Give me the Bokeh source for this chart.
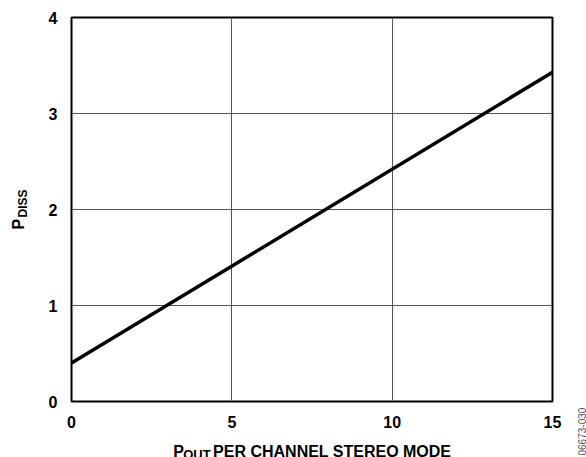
import math
from bokeh.plotting import figure
from bokeh.models import FixedTicker, Range1d
from bokeh.layouts import row, column
from bokeh.core.properties import value
from bokeh.embed import file_html
from bokeh.resources import INLINE

# ---- data ----
pout = [0, 15]
pdiss = [0.40, 3.43]
x_ticks = [0, 5, 10, 15]
y_ticks = [0, 1, 2, 3, 4]
x_label_parts = ["P", "OUT", "PER CHANNEL STEREO MODE"]
y_label_parts = ["P", "DISS"]
watermark = "06673-030"

FONT = "Liberation Sans"
TOTAL_W, TOTAL_H = 586, 457
LEFT_W, RIGHT_W = 40, 16
MID_W = TOTAL_W - LEFT_W - RIGHT_W
MAIN_H, BOTTOM_H = 430, TOTAL_H - 430
FL, FT, FW, FH = 71 - LEFT_W, 17, 481, 384
BX = -19  # correction for bottom panel placement

# ---- main plot ----
p = figure(width=MID_W, height=MAIN_H, output_backend="svg", toolbar_location=None,
           x_range=Range1d(0, 15), y_range=Range1d(0, 4),
           frame_width=FW, frame_height=FH,
           min_border_left=FL, min_border_top=FT,
           min_border_right=MID_W - FL - FW, min_border_bottom=MAIN_H - FT - FH)
p.background_fill_color = "white"
p.border_fill_color = "white"
p.outline_line_color = "black"
p.outline_line_width = 2
for ax in (p.xaxis, p.yaxis):
    ax.axis_line_color = None
    ax.major_tick_line_color = None
    ax.minor_tick_line_color = None
    ax.major_label_text_font = FONT
    ax.major_label_text_font_style = "bold"
    ax.major_label_text_font_size = "16px"
    ax.major_label_text_color = "black"
p.xaxis.ticker = FixedTicker(ticks=x_ticks)
p.yaxis.ticker = FixedTicker(ticks=y_ticks)
p.xaxis.major_label_standoff = 8
p.yaxis.major_label_standoff = 8
p.grid.grid_line_color = "#555555"
p.grid.grid_line_width = 1
p.xgrid.ticker = FixedTicker(ticks=x_ticks)
p.ygrid.ticker = FixedTicker(ticks=y_ticks)
p.line(pout, pdiss, line_color="black", line_width=3.5)


def text_panel(w, h):
    f = figure(width=w, height=h, output_backend="svg", toolbar_location=None,
               x_range=Range1d(0, w), y_range=Range1d(0, h),
               x_axis_type=None, y_axis_type=None, min_border=0)
    f.grid.visible = False
    f.outline_line_color = None
    f.background_fill_color = "white"
    f.border_fill_color = "white"
    return f


def put(f, h, px, py, txt, size, angle=0.0, color="black", bold=True):
    f.text(x=[px], y=[h - py], text=[txt], angle=angle,
           text_font=value(FONT), text_font_size=value(size),
           text_font_style="bold" if bold else "normal",
           text_color=color, text_align="left", text_baseline="alphabetic")

# left panel: y-axis label (rotated)
left = text_panel(LEFT_W, MAIN_H)
put(left, MAIN_H, 18, 229, y_label_parts[0], "16px", angle=math.pi / 2)
put(left, MAIN_H, 22, 217, y_label_parts[1], "12px", angle=math.pi / 2)

# bottom panel: x-axis label
bottom = text_panel(MID_W, BOTTOM_H)
put(bottom, BOTTOM_H, 171 - LEFT_W + BX, 451 - MAIN_H, x_label_parts[0], "16px")
put(bottom, BOTTOM_H, 182 - LEFT_W + BX, 454 - MAIN_H, x_label_parts[1], "13px")
put(bottom, BOTTOM_H, 215 - LEFT_W + BX, 451 - MAIN_H, x_label_parts[2], "16px")

# right panel: figure code
right = text_panel(RIGHT_W, TOTAL_H)
put(right, TOTAL_H, 581 - (TOTAL_W - RIGHT_W), 455, watermark, "10px",
    angle=math.pi / 2, color="#555555", bold=False)

layout = row(left, column(p, bottom, spacing=0), right, spacing=0)
open("out.html", "w").write(file_html(layout, INLINE))
